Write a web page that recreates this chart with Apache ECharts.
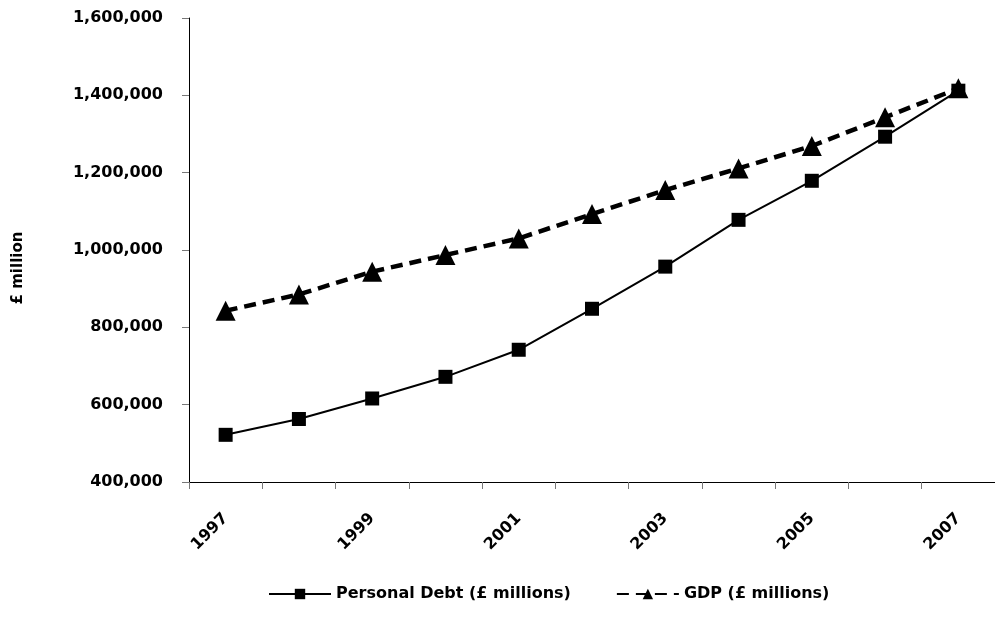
<!DOCTYPE html>
<html>
<head>
<meta charset="utf-8">
<script src="https://cdn.jsdelivr.net/npm/echarts@6/dist/echarts.min.js"></script>
<style>
  html, body { margin: 0; padding: 0; background: #fff; }
  #chartDiv { width: 995px; height: 629px; }
</style>
</head>
<body>
<div id="chartDiv"></div>
<script>
const years = ['1997', '1998', '1999', '2000', '2001', '2002', '2003', '2004', '2005', '2006', '2007'];
const personalDebt = [522000, 563000, 616000, 672000, 742000, 848000, 957000, 1078000, 1179000, 1293000, 1412000];
const gdp = [843000, 885000, 944000, 987000, 1030000, 1093000, 1155000, 1211000, 1269000, 1343000, 1418000];

const FONT = '"DejaVu Sans", Verdana, sans-serif';

let chart = echarts.init(document.getElementById('chartDiv'));

const option = {
  animation: false,
  backgroundColor: '#fff',
  grid: {
    left: 189,
    top: 18,
    bottom: 147,
    right: -10
  },
  legend: {
    bottom: 22,
    left: 263,
    itemWidth: 62,
    itemHeight: 13,
    itemGap: 45,
    textStyle: {
      fontFamily: FONT,
      fontWeight: 'bold',
      fontSize: 16,
      color: '#000'
    },
    data: ['Personal Debt (£ millions)', 'GDP (£ millions)']
  },
  xAxis: {
    type: 'category',
    data: years,
    boundaryGap: true,
    axisLine: { lineStyle: { color: '#000', width: 1 } },
    axisTick: {
      show: true,
      interval: 0,
      length: 7,
      lineStyle: { color: '#777' }
    },
    axisLabel: {
      interval: 1,
      rotate: 45,
      margin: 34,
      fontFamily: FONT,
      fontWeight: 'bold',
      fontSize: 16,
      color: '#000'
    },
    splitLine: { show: false }
  },
  yAxis: {
    type: 'value',
    min: 400000,
    max: 1600000,
    interval: 200000,
    name: '£ million',
    nameLocation: 'middle',
    nameGap: 163,
    nameRotate: 90,
    nameTextStyle: {
      fontFamily: FONT,
      fontWeight: 'bold',
      fontSize: 15,
      color: '#000',
      padding: [0, 36, 0, 0]
    },
    axisLine: { show: true, lineStyle: { color: '#000', width: 1 } },
    axisTick: { show: true, length: 7, lineStyle: { color: '#777' } },
    axisLabel: {
      margin: 26,
      fontFamily: FONT,
      fontWeight: 'bold',
      fontSize: 16,
      color: '#000',
      formatter: (v) => v.toLocaleString('en-GB')
    },
    splitLine: { show: false }
  },
  series: [
    {
      name: 'Personal Debt (£ millions)',
      type: 'line',
      data: personalDebt,
      symbol: 'rect',
      symbolSize: 14,
      lineStyle: { color: '#000', width: 2 },
      itemStyle: { color: '#000' },
      z: 2
    },
    {
      name: 'GDP (£ millions)',
      type: 'line',
      data: gdp,
      symbol: 'triangle',
      symbolSize: 20,
      lineStyle: { color: '#000', width: 4.5, type: [12, 7] },
      itemStyle: { color: '#000' },
      z: 3
    }
  ]
};

chart.setOption(option);
</script>
</body>
</html>
